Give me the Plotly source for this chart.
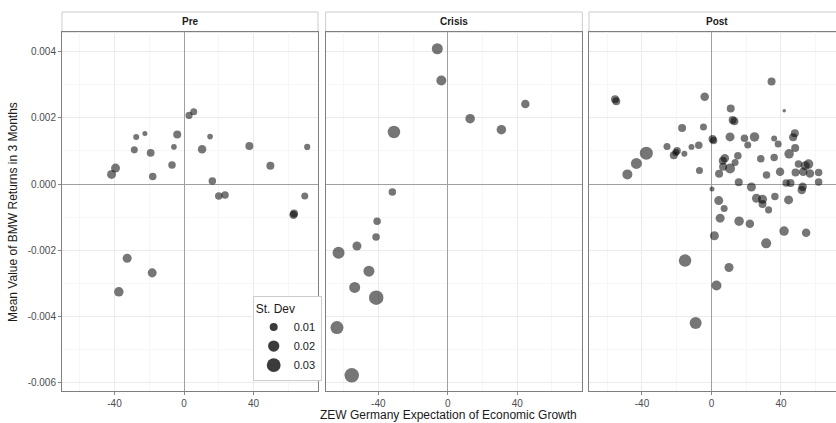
import numpy as np
import plotly.graph_objects as go

# ---------------- data ----------------
periods = ["Pre", "Crisis", "Post"]

pre_x = [2.9, 5.6, -27.5, -22.5, -3.9, 15.0, -28.6, -19.2, -5.8, 10.4, 37.6, 70.9, -39.4, -41.7,
         -18.0, -6.9, 49.7, 16.3, 20.0, 23.6, 69.5, 63.0, 63.3, -32.7, -18.3, -37.5]
pre_y = [0.00207, 0.00218, 0.00142, 0.00152, 0.00149, 0.00143, 0.00103, 0.00094, 0.00112, 0.00105,
         0.00115, 0.00112, 0.00048, 0.00029, 0.00023, 0.00057, 0.00055, 0.00009, -0.00036, -0.00033,
         -0.00036, -0.00093, -0.00089, -0.00224, -0.00268, -0.00325]
pre_sd = [0.0077, 0.0077, 0.0056, 0.0040, 0.0100, 0.0050, 0.0077, 0.0095, 0.0050, 0.0113, 0.0100,
          0.0060, 0.0127, 0.0127, 0.0088, 0.0088, 0.0100, 0.0088, 0.0088, 0.0088, 0.0077, 0.0110,
          0.0100, 0.0127, 0.0127, 0.0141]

crisis_x = [-6.0, -3.7, 44.7, 12.9, 30.9, -31.0, -31.9, -40.7, -41.3, -52.3, -62.9, -45.4, -53.6,
            -41.2, -63.8, -55.3]
crisis_y = [0.00408, 0.00312, 0.00241, 0.00197, 0.00164, 0.00157, -0.00024, -0.00112, -0.00160,
            -0.00187, -0.00207, -0.00263, -0.00312, -0.00343, -0.00433, -0.00577]
crisis_sd = [0.0189, 0.0156, 0.0113, 0.0141, 0.0141, 0.0244, 0.0088, 0.0088, 0.0088, 0.0127, 0.0225,
             0.0189, 0.0189, 0.0328, 0.0264, 0.0328]

post_x = [-55.5, -54.8, 34.6, -3.9, 41.9, 11.1, 12.2, 13.2, -16.9, -4.6, 0.6, 1.2, 10.7, 24.8, 19.0,
          20.9, 36.1, 38.4, 48.0, 47.0, 48.2, 44.7, -25.6, -19.8, -20.5, -21.7, -15.6, -11.5, -7.3,
          -37.5, -43.2, -48.4, -6.9, 7.7, 6.5, 15.2, 13.6, 10.7, 6.7, 4.4, 28.4, 36.1, 39.5, 31.7,
          15.7, 23.0, 50.1, 55.9, 54.0, 52.8, 48.4, 56.7, 61.7, 61.7, 45.5, 43.0, 52.5, 52.0, 0.3,
          4.2, 7.3, 5.0, 15.9, 22.1, 25.9, 29.4, 29.4, 32.9, 36.5, 44.4, 41.8, 54.5, 31.5, 1.7, 10.1,
          -15.2, 2.9, -9.1]
post_y = [0.00256, 0.00250, 0.00309, 0.00263, 0.00221, 0.00228, 0.00193, 0.00189, 0.00169, 0.00172,
          0.00136, 0.00131, 0.00142, 0.00142, 0.00138, 0.00118, 0.00137, 0.00121, 0.00153, 0.00141,
          0.00109, 0.00091, 0.00113, 0.00100, 0.00095, 0.00087, 0.00091, 0.00112, 0.00117, 0.00093,
          0.00062, 0.00029, 0.00041, 0.00078, 0.00070, 0.00085, 0.00065, 0.00047, 0.00052, 0.00031,
          0.00076, 0.00080, 0.00037, 0.00027, 0.00005, -0.00009, 0.00060, 0.00060, 0.00055, 0.00037,
          0.00035, 0.00032, 0.00035, 0.00006, 0.00003, 0.00003, -0.00008, -0.00018, -0.00015,
          -0.00050, -0.00074, -0.00103, -0.00112, -0.00120, -0.00043, -0.00046, -0.00060, -0.00078,
          -0.00038, -0.00048, -0.00142, -0.00147, -0.00179, -0.00156, -0.00252, -0.00231, -0.00306,
          -0.00419]
post_sd = [0.0100, 0.0100, 0.0100, 0.0113, 0.0019, 0.0100, 0.0100, 0.0100, 0.0100, 0.0077, 0.0100,
           0.0090, 0.0127, 0.0141, 0.0088, 0.0077, 0.0056, 0.0077, 0.0100, 0.0100, 0.0100, 0.0141,
           0.0077, 0.0090, 0.0080, 0.0100, 0.0056, 0.0056, 0.0088, 0.0264, 0.0189, 0.0156, 0.0077,
           0.0113, 0.0100, 0.0088, 0.0077, 0.0156, 0.0100, 0.0100, 0.0088, 0.0088, 0.0113, 0.0088,
           0.0100, 0.0127, 0.0088, 0.0141, 0.0127, 0.0113, 0.0100, 0.0113, 0.0088, 0.0088, 0.0100,
           0.0088, 0.0113, 0.0113, 0.0039, 0.0127, 0.0077, 0.0127, 0.0141, 0.0113, 0.0127, 0.0127,
           0.0100, 0.0077, 0.0088, 0.0127, 0.0141, 0.0113, 0.0156, 0.0127, 0.0127, 0.0244, 0.0156,
           0.0225]

legend_sd = [0.01, 0.02, 0.03]
legend_labels = ["0.01", "0.02", "0.03"]

x_ticks = [-40, 0, 40]
x_ticktext = ["-40", "0", "40"]
y_ticks = [-0.006, -0.004, -0.002, 0.0, 0.002, 0.004]
y_ticktext = ["-0.006", "-0.004", "-0.002", "0.000", "0.002", "0.004"]

# ---------------- layout helpers ----------------
W, H = 836, 423
def px_x(p): return p / W
def px_y(p): return 1 - p / H

panel_px = [(62, 318), (325.7, 582.3), (589, 836)]
x_ranges = [[-70.2, 77.1], [-70.3, 77.5], [-70.5, 71.7]]
y_range = [-0.006243, 0.004585]
plot_top, plot_bot = 32, 391
strip_top = 12

def diam(sd):
    return 8.0 * np.sqrt(np.asarray(sd) / 0.01)

fig = go.Figure()
pt_color = "rgba(0,0,0,0.77)"
series = [(pre_x, pre_y, pre_sd), (crisis_x, crisis_y, crisis_sd), (post_x, post_y, post_sd)]
for i, (xs, ys, sds) in enumerate(series):
    ax = "" if i == 0 else str(i + 1)
    fig.add_trace(go.Scatter(
        x=xs, y=ys, mode="markers", xaxis="x" + ax, yaxis="y" + ax, showlegend=False,
        marker=dict(size=diam(sds), color=pt_color, line=dict(width=0)),
        hoverinfo="x+y"))

for sd, lab in zip(legend_sd, legend_labels):
    fig.add_trace(go.Scatter(
        x=[None], y=[None], mode="markers", name=lab, showlegend=True,
        marker=dict(size=float(diam(sd)), color=pt_color, line=dict(width=0))))

layout = dict(
    width=W, height=H, margin=dict(l=0, r=0, t=0, b=0),
    paper_bgcolor="white", plot_bgcolor="white",
    font=dict(family="Liberation Sans, Arial, sans-serif", color="#4d4d4d", size=10),
    showlegend=True,
    legend=dict(
        title=dict(text="St. Dev", font=dict(size=12, color="#1a1a1a")),
        x=px_x(252.7), y=px_y(296), xanchor="left", yanchor="top",
        bgcolor="white", bordercolor="#cccccc", borderwidth=1,
        font=dict(size=11, color="#1a1a1a"), itemwidth=30, tracegroupgap=0),
)

shapes = []
annotations = []
for i, ((l, r), xr) in enumerate(zip(panel_px, x_ranges)):
    ax = "" if i == 0 else str(i + 1)
    layout["xaxis" + ax] = dict(
        domain=[px_x(l), min(1.0, px_x(r))], range=xr, anchor="y" + ax,
        tickvals=x_ticks, ticktext=x_ticktext, ticks="outside", ticklen=3, tickcolor="#888",
        tickfont=dict(size=10, color="#4d4d4d"),
        showgrid=True, gridcolor="#ebebeb", gridwidth=1,
        minor=dict(tickvals=[-60, -20, 20, 60], showgrid=True, gridcolor="#f6f6f6", ticks=""),
        zeroline=True, zerolinecolor="#a0a0a0", zerolinewidth=1,
        showline=True, linecolor="#7f7f7f", linewidth=1, mirror=True,
        fixedrange=True)
    layout["yaxis" + ax] = dict(
        domain=[px_y(plot_bot), px_y(plot_top)], range=y_range, anchor="x" + ax,
        tickvals=y_ticks, ticktext=y_ticktext,
        showticklabels=(i == 0), ticks="outside" if i == 0 else "", ticklen=3, tickcolor="#888",
        tickfont=dict(size=10, color="#4d4d4d"),
        showgrid=True, gridcolor="#ebebeb", gridwidth=1,
        minor=dict(tickvals=[-0.005, -0.003, -0.001, 0.001, 0.003], showgrid=True,
                   gridcolor="#f6f6f6", ticks=""),
        zeroline=True, zerolinecolor="#a0a0a0", zerolinewidth=1,
        showline=True, linecolor="#7f7f7f", linewidth=1, mirror=(i != 2),
        fixedrange=True)
    # strip
    shapes.append(dict(type="rect", xref="paper", yref="paper",
                       x0=px_x(l), x1=px_x(r if i < 2 else 840), y0=px_y(plot_top), y1=px_y(strip_top),
                       fillcolor="white", line=dict(color="#cccccc", width=1), layer="below"))
    annotations.append(dict(text="<b>%s</b>" % periods[i], xref="paper", yref="paper",
                            x=px_x((l + r) / 2 if i < 2 else (l + 845) / 2), y=px_y(22),
                            showarrow=False, font=dict(size=10, color="#1a1a1a"),
                            xanchor="center", yanchor="middle"))

annotations.append(dict(text="ZEW Germany Expectation of Economic Growth", xref="paper", yref="paper",
                        x=px_x(448), y=px_y(415), showarrow=False,
                        font=dict(size=12, color="#1a1a1a"), xanchor="center", yanchor="middle"))
annotations.append(dict(text="Mean Value of BMW Returns in 3 Months", xref="paper", yref="paper",
                        x=px_x(13), y=px_y(212), showarrow=False, textangle=-90,
                        font=dict(size=12, color="#1a1a1a"), xanchor="center", yanchor="middle"))

layout["shapes"] = shapes
layout["annotations"] = annotations
fig.update_layout(**layout)

# remove the page's default body margin so the figure fills the 836x423 window exactly
page_fix = ("document.body.style.margin='0';document.body.style.overflow='hidden';"
            "document.documentElement.style.overflow='hidden';")
fig.write_html("out.html", config=dict(displayModeBar=False), post_script=page_fix)
